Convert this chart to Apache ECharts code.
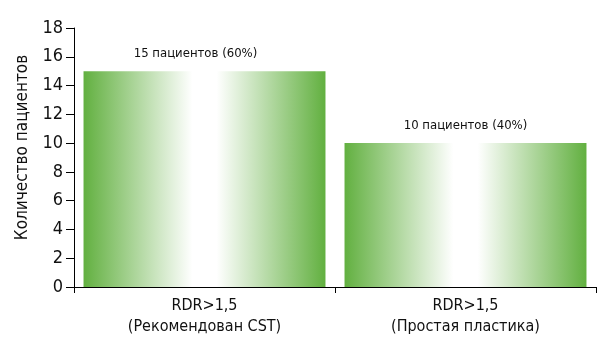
<!DOCTYPE html>
<html>
<head>
<meta charset="utf-8">
<script src="https://cdn.jsdelivr.net/npm/echarts@6/dist/echarts.min.js"></script>
<style>
  html, body { margin: 0; padding: 0; background: #fff; }
  #chart { width: 598px; height: 341px; }
</style>
</head>
<body>
<div id="chart"></div>
<script>
const categories = ['RDR>1,5\n(Рекомендован CST)', 'RDR>1,5\n(Простая пластика)']
const patients = [15, 10]
const barLabels = ['15 пациентов (60%)', '10 пациентов (40%)']

const FONT = '"DejaVu Sans Condensed", "Liberation Sans Narrow", sans-serif'
const GREEN = '#62b040'

const barFill = {
  type: 'linear', x: 0, y: 0, x2: 1, y2: 0,
  colorStops: [
    { offset: 0, color: GREEN },
    { offset: 0.45, color: '#ffffff' },
    { offset: 0.55, color: '#ffffff' },
    { offset: 1, color: GREEN },
  ],
}

const chart = echarts.init(document.getElementById('chart'), null, { renderer: 'canvas' })

chart.setOption({
  animation: false,
  backgroundColor: '#fff',
  grid: { left: 74, right: 2, top: 28, bottom: 54 },
  xAxis: {
    type: 'category',
    data: categories,
    axisLine: { lineStyle: { color: '#000', width: 1 } },
    axisTick: { show: true, length: 6, lineStyle: { color: '#000' } },
    axisLabel: {
      color: '#111', fontFamily: FONT, fontSize: 16, lineHeight: 21, margin: 8,
    },
  },
  yAxis: {
    type: 'value',
    min: 0,
    max: 18,
    interval: 2,
    name: 'Количество пациентов',
    nameLocation: 'middle',
    nameGap: 42,
    nameTextStyle: { color: '#111', fontFamily: FONT, fontSize: 17, padding: [0, 0, 0, 20] },
    axisLine: { show: true, lineStyle: { color: '#000', width: 1 } },
    axisTick: { show: true, length: 8, lineStyle: { color: '#000' } },
    axisLabel: { color: '#111', fontFamily: FONT, fontSize: 18, margin: 11 },
    splitLine: { show: false },
  },
  series: [
    {
      type: 'bar',
      data: patients.map((v, i) => (i === 0 ? { value: v, label: { offset: [-9, 0] } } : v)),
      barCategoryGap: '7.3%',
      itemStyle: { color: barFill },
      label: {
        show: true,
        position: 'top',
        distance: 11,
        color: '#111',
        fontFamily: FONT,
        fontSize: 13,
        formatter: (p) => barLabels[p.dataIndex],
      },
    },
  ],
})
</script>
</body>
</html>
